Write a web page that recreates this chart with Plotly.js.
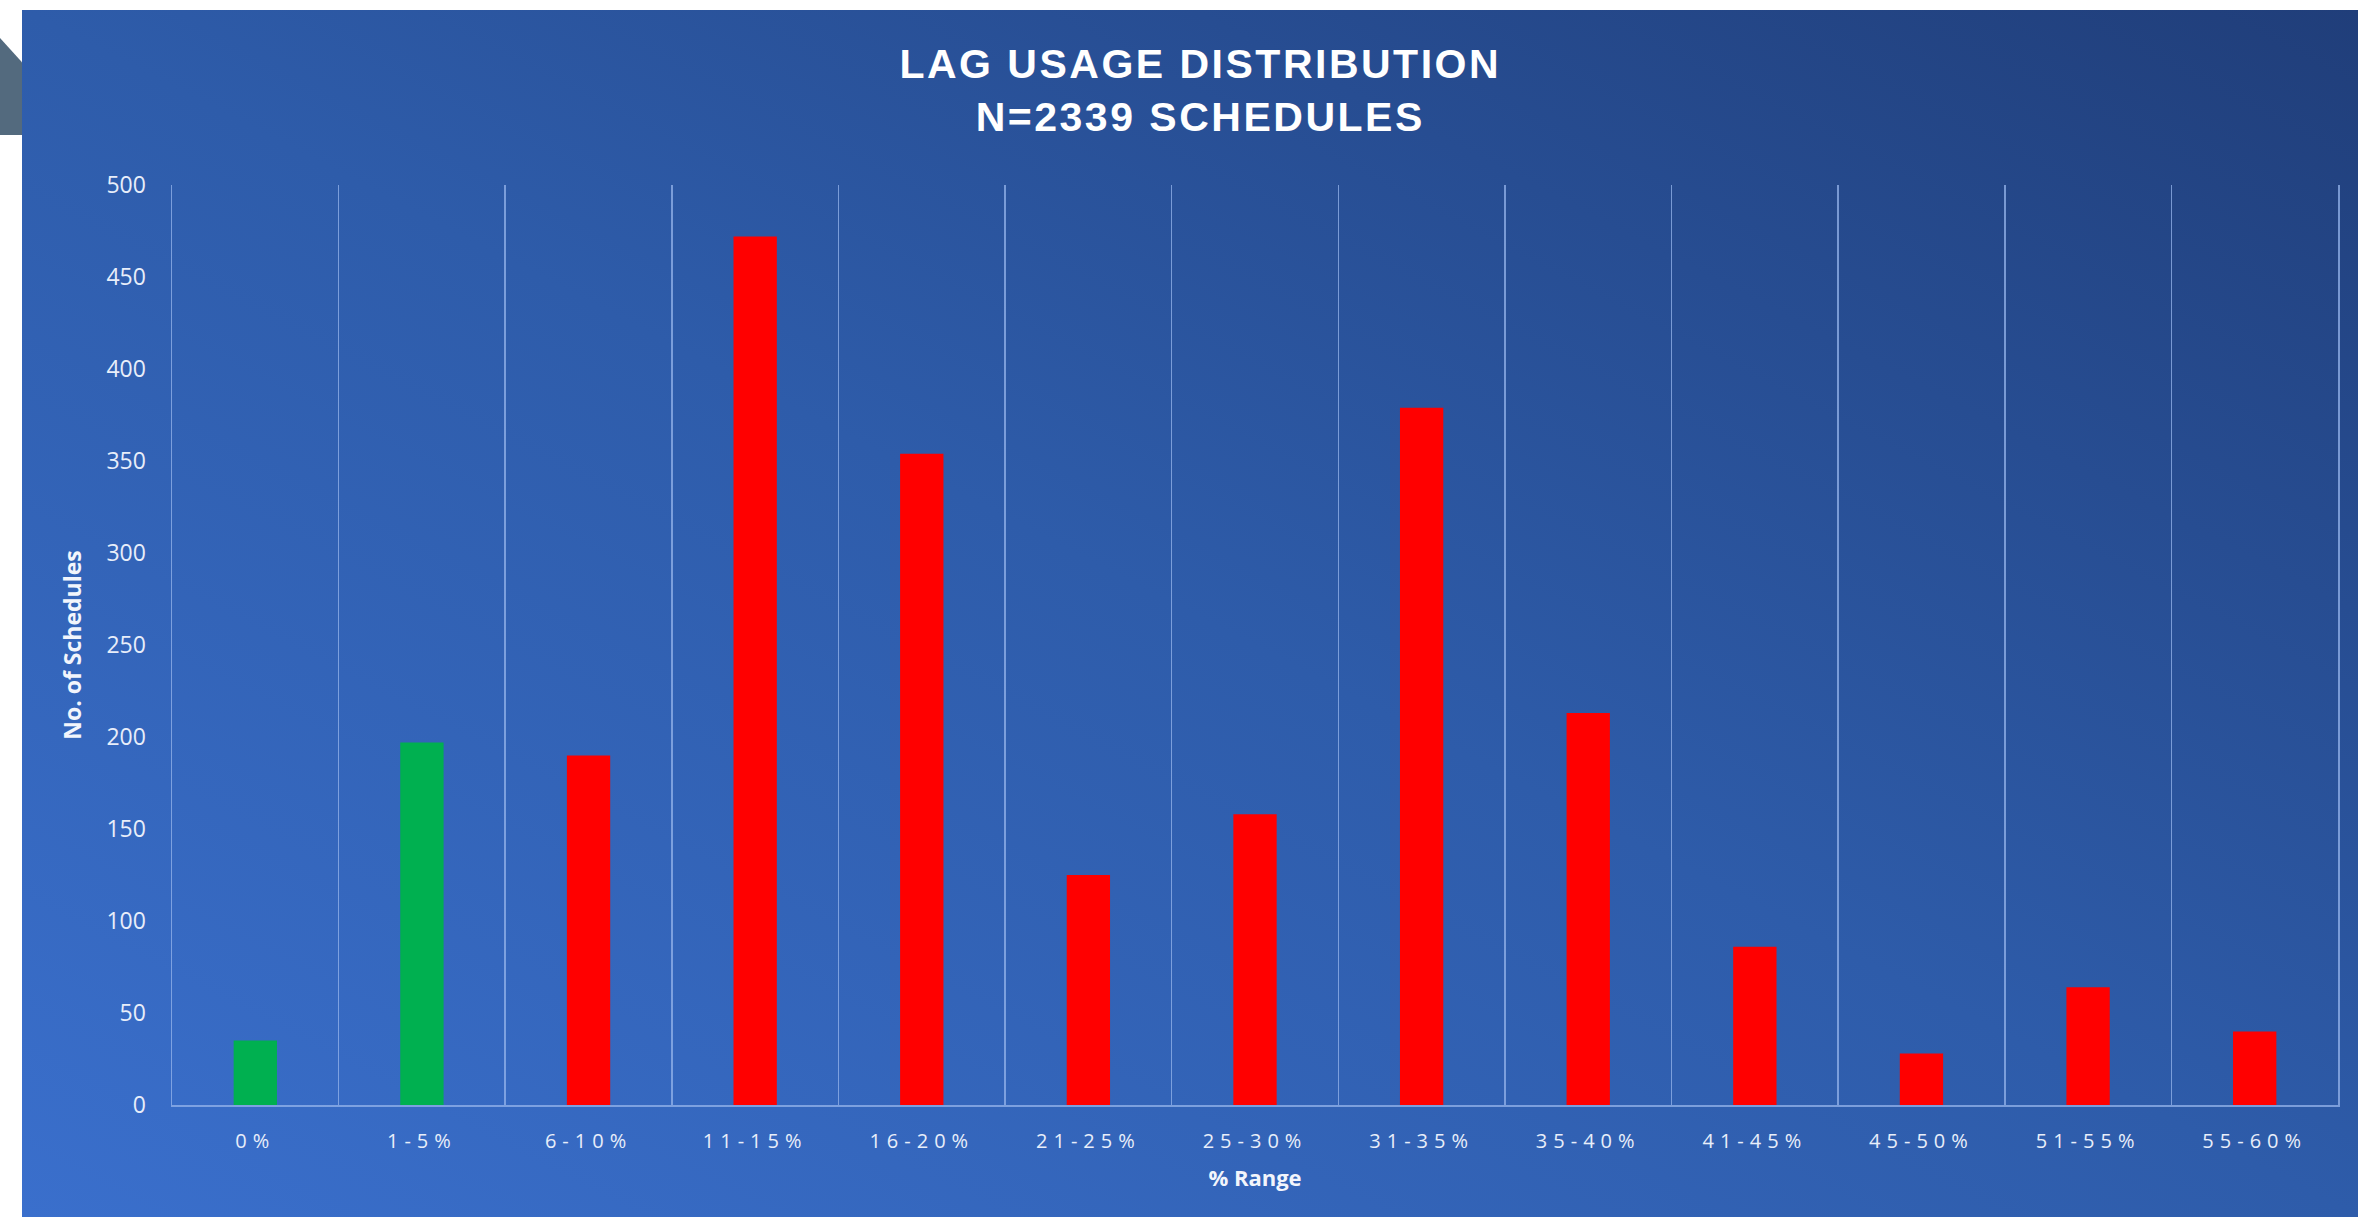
<!DOCTYPE html>
<html>
<head>
<meta charset="utf-8">
<script src="https://cdn.plot.ly/plotly-3.0.1.min.js"></script>
<style>
  html, body { margin: 0; padding: 0; background: #ffffff; }
  #wrap { position: relative; width: 2358px; height: 1217px; overflow: hidden; background: #ffffff; }
  #bg { position: absolute; left: 22px; top: 10px; right: 0; bottom: 0;
        background: linear-gradient(to top right, #3a6fcc 0%, #2e5caa 50%, #203e7a 100%); }
  #chev { position: absolute; left: 0; top: 38px; width: 22px; height: 97px; background: #536a7e;
          clip-path: polygon(0 0, 100% 25%, 100% 100%, 0 100%); }
  #chart { position: absolute; left: 0; top: 0; width: 2358px; height: 1217px; }
  .xtick text { letter-spacing: 6px; }
  .gtitle { letter-spacing: 2.5px; }
</style>
</head>
<body>
<div id="wrap">
  <div id="bg"></div>
  <div id="chev"></div>
  <div id="chart"></div>
</div>
<script>
const categories = ['0%', '1-5%', '6-10%', '11-15%', '16-20%', '21-25%', '25-30%', '31-35%', '35-40%', '41-45%', '45-50%', '51-55%', '55-60%'];
const schedules = [35, 197, 190, 472, 354, 125, 158, 379, 213, 86, 28, 64, 40];
const barColors = ['#00b050', '#00b050', '#ff0000', '#ff0000', '#ff0000', '#ff0000', '#ff0000', '#ff0000', '#ff0000', '#ff0000', '#ff0000', '#ff0000', '#ff0000'];
const yTicks = [0, 50, 100, 150, 200, 250, 300, 350, 400, 450, 500];

const lineCol = 'rgba(150,180,235,0.75)';

const trace = {
  type: 'bar',
  x: categories,
  y: schedules,
  marker: { color: barColors, line: { width: 0 } },
  hoverinfo: 'x+y'
};

const layout = {
  width: 2358,
  height: 1217,
  paper_bgcolor: 'rgba(0,0,0,0)',
  plot_bgcolor: 'rgba(0,0,0,0)',
  margin: { l: 172, r: 20, t: 185, b: 112, pad: 0 },
  bargap: 0.74,
  showlegend: false,
  title: {
    text: 'LAG USAGE DISTRIBUTION<br>N=2339 SCHEDULES',
    font: { family: '"Liberation Sans", Arial, sans-serif', size: 41, color: '#ffffff', weight: 'bold' },
    xref: 'container', x: 0.509, xanchor: 'center',
    yref: 'container', y: 1 - 78 / 1217, yanchor: 'middle'
  },
  xaxis: {
    type: 'category',
    range: [-0.5, 12.5],
    tickson: 'boundaries',
    showgrid: true,
    gridcolor: lineCol,
    gridwidth: 1.5,
    showline: true,
    linecolor: lineCol,
    linewidth: 2,
    zeroline: false,
    ticks: '',
    ticklabelstandoff: 17,
    tickfont: { family: '"Open Sans", sans-serif', size: 20, color: '#e8eefa' },
    title: {
      text: '% Range',
      font: { family: '"Open Sans", sans-serif', size: 22, color: '#f2f5fc', weight: 'bold' },
      standoff: 18
    },
    fixedrange: true
  },
  yaxis: {
    range: [0, 500],
    tickvals: yTicks,
    ticktext: yTicks.map(String),
    showgrid: false,
    zeroline: false,
    showline: true,
    mirror: true,
    linecolor: lineCol,
    linewidth: 1.5,
    ticks: '',
    ticklabelstandoff: 20,
    tickfont: { family: '"Open Sans", sans-serif', size: 23, color: '#e8eefa' },
    title: {
      text: 'No. of Schedules',
      font: { family: '"Open Sans", sans-serif', size: 23, color: '#f2f5fc', weight: 'bold' },
      standoff: 18
    },
    fixedrange: true
  }
};

Plotly.newPlot('chart', [trace], layout, { displayModeBar: false, staticPlot: true });
</script>
</body>
</html>
